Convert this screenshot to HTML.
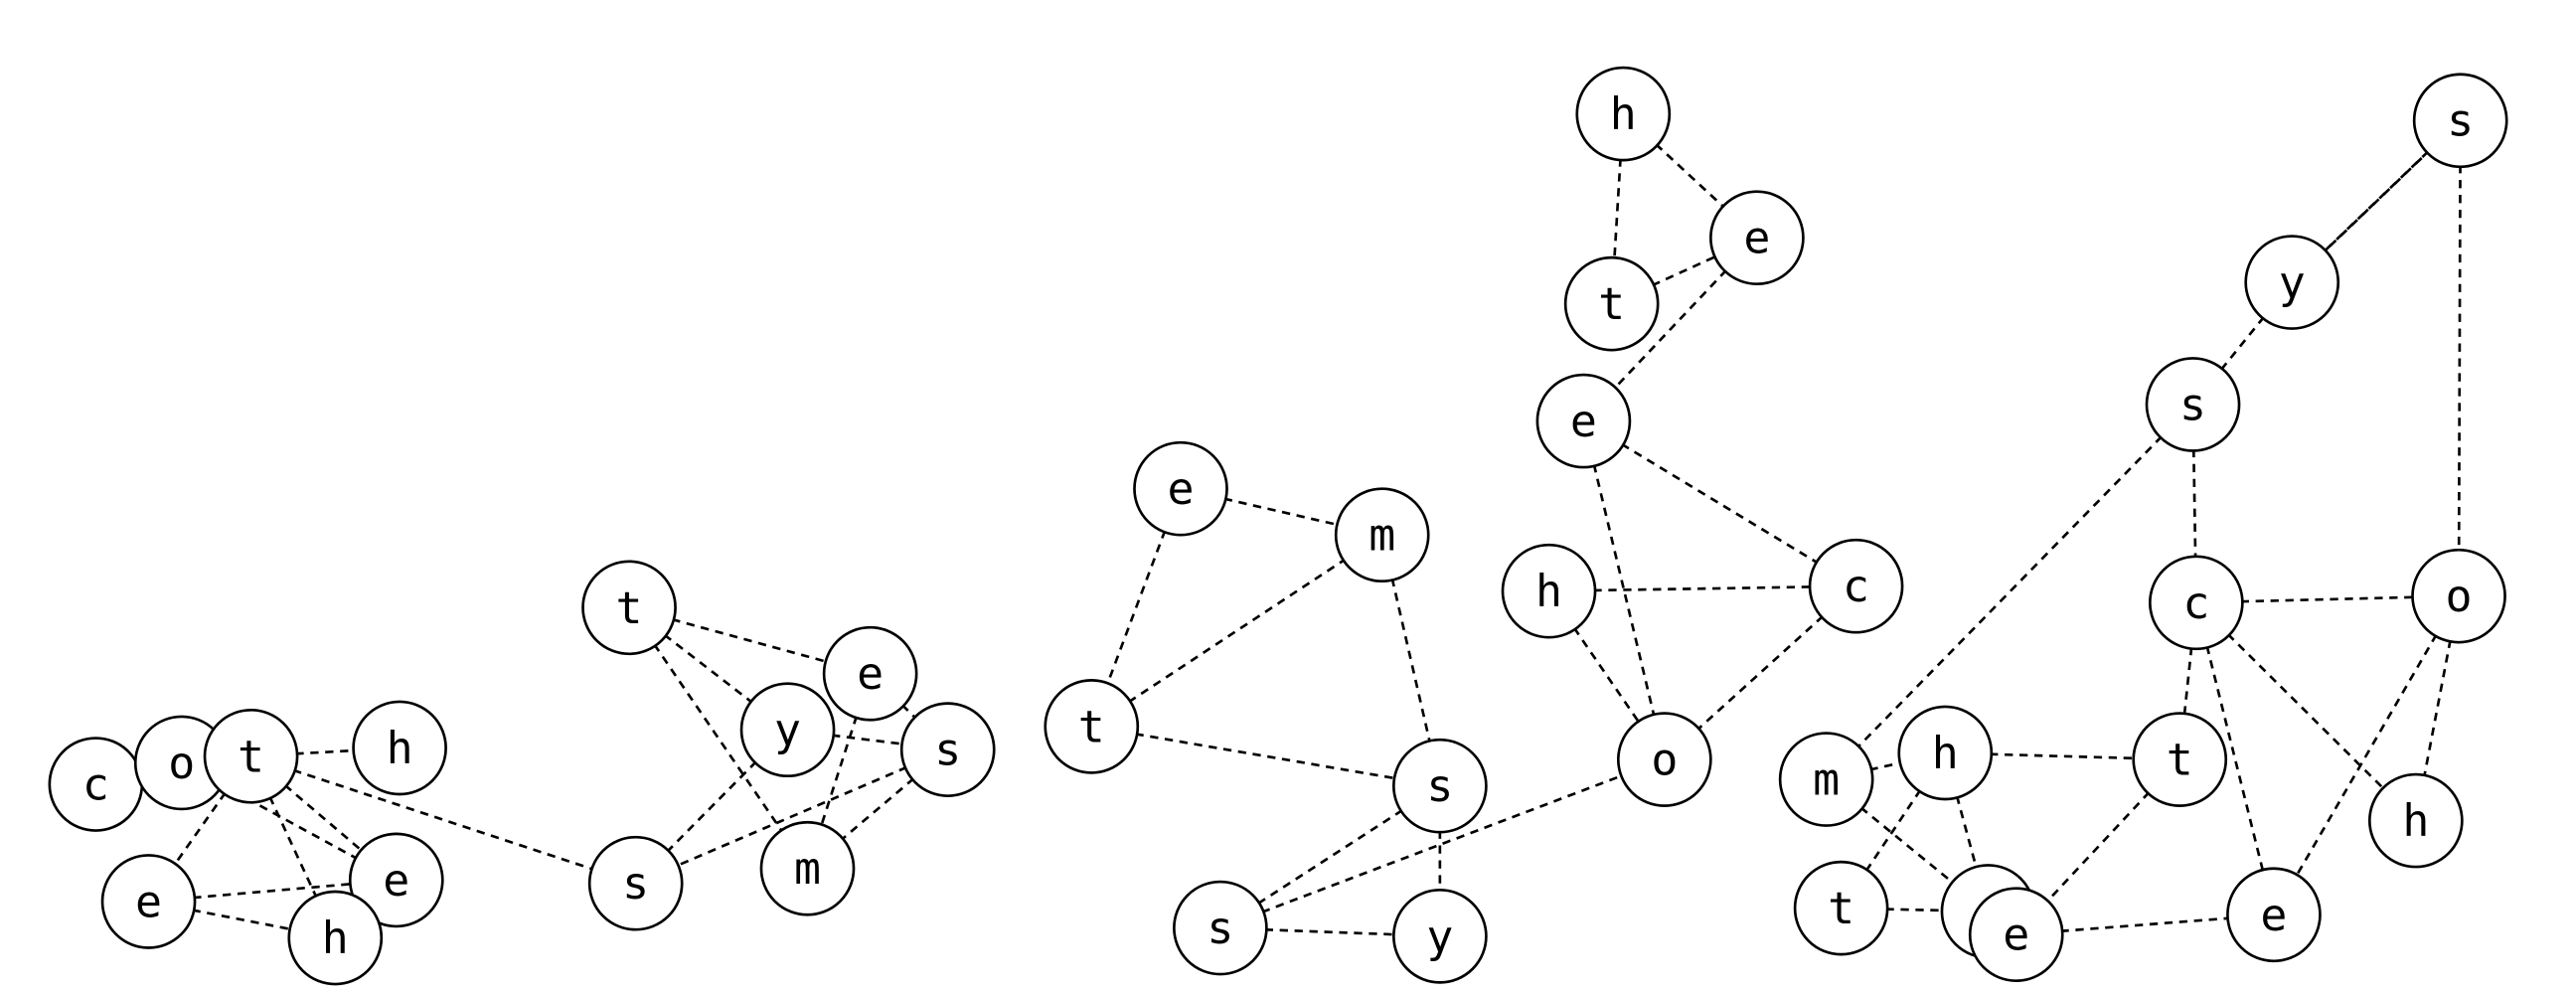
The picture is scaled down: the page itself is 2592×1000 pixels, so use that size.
<!DOCTYPE html>
<html><head><style>html,body{margin:0;padding:0;background:#fff}svg{display:block}</style></head>
<body>
<svg width="2592" height="1000" viewBox="0 0 1560 602" preserveAspectRatio="none" xmlns="http://www.w3.org/2000/svg">
<g stroke="#000" stroke-width="1.6" stroke-dasharray="5,4" fill="none">
<line x1="152" y1="458" x2="242" y2="453"/>
<line x1="110" y1="462" x2="240" y2="533"/>
<line x1="152" y1="458" x2="90" y2="546"/>
<line x1="152" y1="458" x2="240" y2="533"/>
<line x1="152" y1="458" x2="203" y2="568"/>
<line x1="90" y1="546" x2="240" y2="533"/>
<line x1="90" y1="546" x2="203" y2="568"/>
<line x1="152" y1="458" x2="385" y2="535"/>
<line x1="381" y1="368" x2="527" y2="408"/>
<line x1="381" y1="368" x2="477" y2="442"/>
<line x1="381" y1="368" x2="489" y2="526"/>
<line x1="477" y1="442" x2="574" y2="454"/>
<line x1="527" y1="408" x2="489" y2="526"/>
<line x1="527" y1="408" x2="574" y2="454"/>
<line x1="574" y1="454" x2="489" y2="526"/>
<line x1="574" y1="454" x2="385" y2="535"/>
<line x1="477" y1="442" x2="385" y2="535"/>
<line x1="715" y1="296" x2="837" y2="324"/>
<line x1="715" y1="296" x2="661" y2="440"/>
<line x1="661" y1="440" x2="837" y2="324"/>
<line x1="837" y1="324" x2="872" y2="476"/>
<line x1="661" y1="440" x2="872" y2="476"/>
<line x1="872" y1="476" x2="739" y2="562"/>
<line x1="872" y1="476" x2="872" y2="567"/>
<line x1="739" y1="562" x2="872" y2="567"/>
<line x1="739" y1="562" x2="1008" y2="460"/>
<line x1="983" y1="69" x2="1064" y2="144"/>
<line x1="983" y1="69" x2="976" y2="184"/>
<line x1="976" y1="184" x2="1064" y2="144"/>
<line x1="1064" y1="144" x2="959" y2="255"/>
<line x1="959" y1="255" x2="1124" y2="355"/>
<line x1="959" y1="255" x2="1008" y2="460"/>
<line x1="938" y1="358" x2="1124" y2="355"/>
<line x1="938" y1="358" x2="1008" y2="460"/>
<line x1="1124" y1="355" x2="1008" y2="460"/>
<line x1="1490" y1="73" x2="1388" y2="171"/>
<line x1="1486" y1="77" x2="1384" y2="175"/>
<line x1="1388" y1="171" x2="1328" y2="245"/>
<line x1="1328" y1="245" x2="1106" y2="472"/>
<line x1="1328" y1="245" x2="1330" y2="365"/>
<line x1="1490" y1="73" x2="1489" y2="361"/>
<line x1="1330" y1="365" x2="1489" y2="361"/>
<line x1="1330" y1="365" x2="1320" y2="460"/>
<line x1="1330" y1="365" x2="1377" y2="554"/>
<line x1="1330" y1="365" x2="1463" y2="497"/>
<line x1="1489" y1="361" x2="1377" y2="554"/>
<line x1="1489" y1="361" x2="1463" y2="497"/>
<line x1="1106" y1="472" x2="1178" y2="456"/>
<line x1="1106" y1="472" x2="1204" y2="552"/>
<line x1="1178" y1="456" x2="1320" y2="460"/>
<line x1="1178" y1="456" x2="1115" y2="550"/>
<line x1="1178" y1="456" x2="1204" y2="552"/>
<line x1="1320" y1="460" x2="1221" y2="566"/>
<line x1="1115" y1="550" x2="1204" y2="552"/>
<line x1="1221" y1="566" x2="1377" y2="554"/>
</g>
<g stroke="#000" stroke-width="1.6" fill="#fff">
<circle cx="58" cy="475" r="28"/><circle cx="110" cy="462" r="28"/><circle cx="152" cy="458" r="28"/>
<circle cx="242" cy="453" r="28"/><circle cx="90" cy="546" r="28"/><circle cx="240" cy="533" r="28"/><circle cx="203" cy="568" r="28"/>
<circle cx="381" cy="368" r="28"/><circle cx="527" cy="408" r="28"/><circle cx="477" cy="442" r="28"/><circle cx="574" cy="454" r="28"/><circle cx="489" cy="526" r="28"/><circle cx="385" cy="535" r="28"/>
<circle cx="715" cy="296" r="28"/><circle cx="837" cy="324" r="28"/><circle cx="661" cy="440" r="28"/><circle cx="872" cy="476" r="28"/><circle cx="739" cy="562" r="28"/><circle cx="872" cy="567" r="28"/>
<circle cx="983" cy="69" r="28"/><circle cx="1064" cy="144" r="28"/><circle cx="976" cy="184" r="28"/><circle cx="959" cy="255" r="28"/><circle cx="938" cy="358" r="28"/><circle cx="1124" cy="355" r="28"/><circle cx="1008" cy="460" r="28"/>
<circle cx="1490" cy="73" r="28"/><circle cx="1388" cy="171" r="28"/><circle cx="1328" cy="245" r="28"/><circle cx="1330" cy="365" r="28"/><circle cx="1489" cy="361" r="28"/>
<circle cx="1106" cy="472" r="28"/><circle cx="1178" cy="456" r="28"/><circle cx="1320" cy="460" r="28"/><circle cx="1463" cy="497" r="28"/><circle cx="1115" cy="550" r="28"/><circle cx="1204" cy="552" r="28"/><circle cx="1221" cy="566" r="28"/><circle cx="1377" cy="554" r="28"/>
</g>
<g font-family="'DejaVu Sans Mono','Liberation Mono',monospace" font-size="27" text-anchor="middle" dominant-baseline="central" fill="#000">
<text x="58" y="475">c</text><text x="110" y="462">o</text><text x="152" y="458">t</text>
<text x="242" y="453">h</text><text x="90" y="546">e</text><text x="240" y="533">e</text><text x="203" y="568">h</text>
<text x="381" y="368">t</text><text x="527" y="408">e</text><text x="477" y="442">y</text><text x="574" y="454">s</text><text x="489" y="526">m</text><text x="385" y="535">s</text>
<text x="715" y="296">e</text><text x="837" y="324">m</text><text x="661" y="440">t</text><text x="872" y="476">s</text><text x="739" y="562">s</text><text x="872" y="567">y</text>
<text x="983" y="69">h</text><text x="1064" y="144">e</text><text x="976" y="184">t</text><text x="959" y="255">e</text><text x="938" y="358">h</text><text x="1124" y="355">c</text><text x="1008" y="460">o</text>
<text x="1490" y="73">s</text><text x="1388" y="171">y</text><text x="1328" y="245">s</text><text x="1330" y="365">c</text><text x="1489" y="361">o</text>
<text x="1106" y="472">m</text><text x="1178" y="456">h</text><text x="1320" y="460">t</text><text x="1463" y="497">h</text><text x="1115" y="550">t</text><text x="1221" y="566">e</text><text x="1377" y="554">e</text>
</g>
</svg>
</body></html>
